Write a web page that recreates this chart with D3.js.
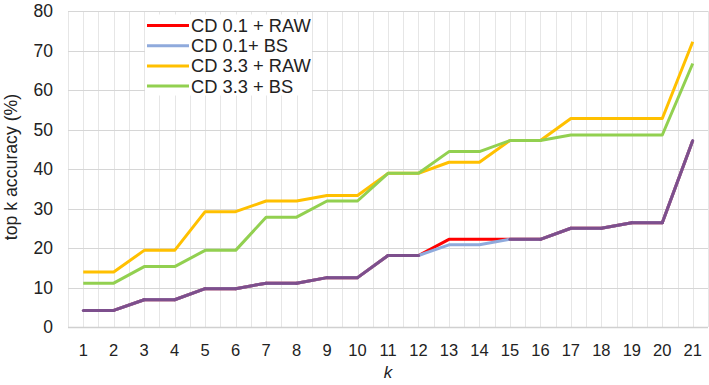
<!DOCTYPE html>
<html lang="en">
<head>
    <meta charset="UTF-8">
    <title>Top k accuracy</title>
    <style>
        body {
            margin: 0;
            padding: 0;
            background: #fff;
            font-family: Arial, "Liberation Sans", sans-serif;
        }
    </style>
</head>
<body>
    <div id="chart"></div>

    <script src="https://d3js.org/d3.v7.min.js"></script>
    <script>
        // categories (k)
        const ks = d3.range(1, 22);

        // series values (%)
        const cd01Raw = [4.2, 4.2, 6.9, 6.9, 9.7, 9.7, 11.1, 11.1, 12.5, 12.5, 18.1, 18.1, 22.2, 22.2, 22.2, 22.2, 25.0, 25.0, 26.4, 26.4, 47.2];
        const cd01Bs = [4.2, 4.2, 6.9, 6.9, 9.7, 9.7, 11.1, 11.1, 12.5, 12.5, 18.1, 18.1, 20.8, 20.8, 22.2, 22.2, 25.0, 25.0, 26.4, 26.4, 47.2];
        const cd33Raw = [13.9, 13.9, 19.4, 19.4, 29.2, 29.2, 31.9, 31.9, 33.3, 33.3, 38.9, 38.9, 41.7, 41.7, 47.2, 47.2, 52.8, 52.8, 52.8, 52.8, 72.2];
        const cd33Bs = [11.1, 11.1, 15.3, 15.3, 19.4, 19.4, 27.8, 27.8, 31.9, 31.9, 38.9, 38.9, 44.4, 44.4, 47.2, 47.2, 48.6, 48.6, 48.6, 48.6, 66.7];

        const yTicks = [0, 10, 20, 30, 40, 50, 60, 70, 80];

        const series = [
            { name: 'CD 0.1 + RAW', values: cd01Raw, color: '#ff0000' },
            { name: 'CD 0.1+ BS', values: cd01Bs, color: '#8faadc' },
            { name: 'CD 3.3 + RAW', values: cd33Raw, color: '#ffc000' },
            { name: 'CD 3.3 + BS', values: cd33Bs, color: '#92d050' }
        ];
        const overlapColor = '#7d4f8d'; // where the two CD 0.1 lines coincide

        const width = 709, height = 385;
        const margin = { top: 11, right: 1, bottom: 58, left: 68 };

        const svg = d3.select('#chart')
            .append('svg')
            .attr('width', width)
            .attr('height', height);

        const x = d3.scaleBand()
            .domain(ks)
            .range([margin.left, width - margin.right]);

        const y = d3.scaleLinear()
            .domain([0, 80])
            .range([height - margin.bottom, margin.top]);

        const cx = k => x(k) + x.bandwidth() / 2;

        // vertical gridlines: category centres and band edges
        const vLines = [];
        ks.forEach(k => { vLines.push(x(k)); vLines.push(cx(k)); });
        vLines.push(x(21) + x.bandwidth());

        svg.append('g')
            .selectAll('line')
            .data(vLines)
            .enter().append('line')
            .attr('x1', d => Math.round(d) + 0.5)
            .attr('x2', d => Math.round(d) + 0.5)
            .attr('y1', y(80))
            .attr('y2', y(0))
            .attr('stroke', '#e6e6e6')
            .attr('stroke-width', 1);

        // horizontal gridlines
        svg.append('g')
            .selectAll('line')
            .data(yTicks)
            .enter().append('line')
            .attr('x1', margin.left)
            .attr('x2', width - margin.right)
            .attr('y1', d => Math.round(y(d)) + 0.5)
            .attr('y2', d => Math.round(y(d)) + 0.5)
            .attr('stroke', d => d === 0 ? '#d0d0d0' : '#d6d6d6')
            .attr('stroke-width', d => d === 0 ? 1.5 : 1);

        // y axis labels
        const yAxis = d3.axisLeft(y).tickValues(yTicks).tickSize(0).tickPadding(15);
        svg.append('g')
            .attr('transform', `translate(${margin.left},0)`)
            .call(yAxis)
            .call(g => g.select('.domain').remove())
            .selectAll('text')
            .attr('font-family', 'Arial, "Liberation Sans", sans-serif')
            .attr('font-size', 17.5)
            .attr('fill', '#222');

        // x axis labels
        const xAxis = d3.axisBottom(x).tickSize(0).tickPadding(17);
        svg.append('g')
            .attr('transform', `translate(0,${y(0)})`)
            .call(xAxis)
            .call(g => g.select('.domain').remove())
            .selectAll('text')
            .attr('font-family', 'Arial, "Liberation Sans", sans-serif')
            .attr('font-size', 16.5)
            .attr('fill', '#222');

        // axis titles
        svg.append('text')
            .attr('x', (margin.left + width - margin.right) / 2)
            .attr('y', 378)
            .attr('text-anchor', 'middle')
            .attr('font-size', 17)
            .attr('font-style', 'italic')
            .attr('fill', '#222')
            .text('k');

        svg.append('text')
            .attr('transform', `translate(17,167) rotate(-90)`)
            .attr('text-anchor', 'middle')
            .attr('font-size', 17.7)
            .attr('fill', '#222')
            .text('top k accuracy (%)');

        // lines
        const line = d3.line()
            .x((d, i) => cx(ks[i]))
            .y(d => y(d));

        svg.append('g')
            .selectAll('path')
            .data(series.slice(0, 2))
            .enter().append('path')
            .attr('d', d => line(d.values))
            .attr('fill', 'none')
            .attr('stroke', d => d.color)
            .attr('stroke-width', 3)
            .attr('stroke-linejoin', 'round');

        // segments where the CD 0.1 lines coincide show as purple
        const overlap = [];
        for (let i = 0; i < ks.length - 1; i++) {
            if (cd01Raw[i] === cd01Bs[i] && cd01Raw[i + 1] === cd01Bs[i + 1]) {
                overlap.push([i, i + 1]);
            }
        }
        svg.append('g')
            .selectAll('line')
            .data(overlap)
            .enter().append('line')
            .attr('x1', d => cx(ks[d[0]]))
            .attr('x2', d => cx(ks[d[1]]))
            .attr('y1', d => y(cd01Raw[d[0]]))
            .attr('y2', d => y(cd01Raw[d[1]]))
            .attr('stroke', overlapColor)
            .attr('stroke-width', 3)
            .attr('stroke-linecap', 'round');

        svg.append('g')
            .selectAll('path')
            .data(series.slice(2))
            .enter().append('path')
            .attr('d', d => line(d.values))
            .attr('fill', 'none')
            .attr('stroke', d => d.color)
            .attr('stroke-width', 3)
            .attr('stroke-linejoin', 'round');

        // legend
        const legend = svg.append('g')
            .attr('transform', 'translate(147,25.5)');

        legend.append('rect')
            .attr('x', -2)
            .attr('y', -11)
            .attr('width', 167)
            .attr('height', 81)
            .attr('fill', '#fff');

        const item = legend.selectAll('g')
            .data(series)
            .enter().append('g')
            .attr('transform', (d, i) => `translate(0,${i * 20.2})`);

        item.append('line')
            .attr('x1', 0)
            .attr('x2', 42)
            .attr('stroke', d => d.color)
            .attr('stroke-width', 3);

        item.append('text')
            .attr('x', 44)
            .attr('dy', '0.35em')
            .attr('font-size', 18.3)
            .attr('fill', '#222')
            .text(d => d.name);
    </script>
</body>
</html>
